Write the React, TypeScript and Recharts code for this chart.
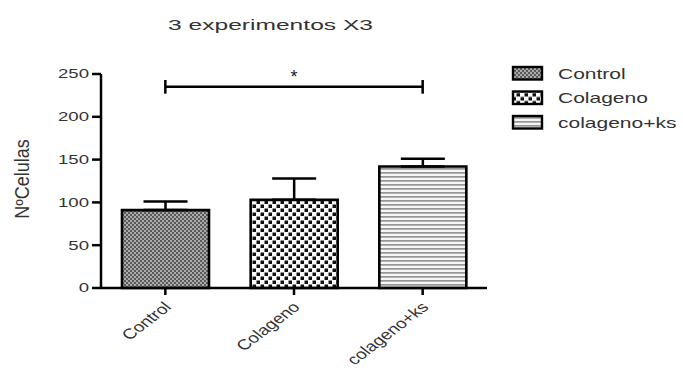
import { BarChart, Bar, XAxis, YAxis, ErrorBar, ReferenceLine, Cell } from 'recharts';

const categories = ['Control', 'Colageno', 'colageno+ks'];
const means = [91, 103, 142];
const sem = [10, 25, 9];
const yTicks = [0, 50, 100, 150, 200, 250];
const sigY = 235;
const title = '3 experimentos X3';
const yLabel = 'NºCelulas';

const fills = ['url(#pat-control)', 'url(#pat-colageno)', 'url(#pat-ks)'];

const data = categories.map((name, i) => ({
  name,
  value: means[i],
  err: [0, sem[i]],
}));

const FONT = 'Liberation Sans, Arial, sans-serif';
const TEXT = '#333';

// the source image is stretched sideways, so text is widened with scaleX
const XTick = ({ x, y, payload }: any) => (
  <g transform={`translate(${x + 7},${y + 11}) scale(1.3,1) rotate(-45)`}>
    <text textAnchor="end" fontSize={14.5} fill={TEXT} fontFamily={FONT}>
      {payload.value}
    </text>
  </g>
);

const YTick = ({ x, y, payload }: any) => (
  <g transform={`translate(${x - 1},${y}) scale(1.55,1)`}>
    <text textAnchor="end" dy="0.36em" fontSize={12} fill={TEXT} fontFamily={FONT}>
      {payload.value}
    </text>
  </g>
);

const Overlay = () => (
  <svg
    width={683}
    height={368}
    style={{ position: 'absolute', left: 0, top: 0, pointerEvents: 'none' }}
  >
    <defs>
      <pattern id="pat-control" width={4} height={4} patternUnits="userSpaceOnUse">
        <rect width={4} height={4} fill="#aaa" />
        <rect width={2} height={2} fill="#5a5a5a" />
        <rect x={2} y={2} width={2} height={2} fill="#5a5a5a" />
      </pattern>
      <pattern id="pat-colageno" width={8} height={8} patternUnits="userSpaceOnUse">
        <rect width={8} height={8} fill="#fff" />
        <rect x={0.5} y={0.5} width={3.5} height={3.5} fill="#111" />
        <rect x={4.5} y={4.5} width={3.5} height={3.5} fill="#111" />
      </pattern>
      <pattern id="pat-ks" width={4} height={4} patternUnits="userSpaceOnUse">
        <rect width={4} height={4} fill="#f6f6f6" />
        <rect width={4} height={1.7} fill="#959595" />
      </pattern>
    </defs>
    <g transform="translate(270.5,30) scale(1.64,1)">
      <text textAnchor="middle" fontSize={15} fill={TEXT} fontFamily={FONT}>
        {title}
      </text>
    </g>
    <g transform="translate(22,179) scale(1.1,1) rotate(-90)">
      <text textAnchor="middle" dy="0.36em" fontSize={18} fill={TEXT} fontFamily={FONT}>
        {yLabel}
      </text>
    </g>
    {categories.map((c, i) => (
      <g key={c} transform={`translate(0,${i * 24.5})`}>
        <rect x={513} y={67} width={29} height={12.5} fill={fills[i]} stroke="#000" strokeWidth={2.4} />
        <g transform="translate(558,78.5) scale(1.5,1)">
          <text fontSize={14} fill={TEXT} fontFamily={FONT}>
            {c}
          </text>
        </g>
      </g>
    ))}
  </svg>
);

export default function App() {
  return (
    <div style={{ position: 'absolute', left: 0, top: 0, width: 683, height: 368, background: '#fff', overflow: 'hidden' }}>
      <BarChart width={683} height={368} data={data} margin={{ top: 74, right: 196, bottom: 0, left: 21 }} barSize={87}>
        <XAxis
          dataKey="name"
          height={80}
          axisLine={{ stroke: '#000', strokeWidth: 2.5 }}
          tickLine={{ stroke: '#000', strokeWidth: 2.5 }}
          tickSize={7}
          interval={0}
          tick={<XTick />}
        />
        <YAxis
          width={80}
          domain={[0, 250]}
          ticks={yTicks}
          axisLine={{ stroke: '#000', strokeWidth: 2.5 }}
          tickLine={{ stroke: '#000', strokeWidth: 2.5 }}
          tickSize={9}
          tick={<YTick />}
        />
        <Bar dataKey="value" stroke="#000" strokeWidth={2.6} isAnimationActive={false}>
          {data.map((d, i) => (
            <Cell key={d.name} fill={fills[i]} />
          ))}
          <ErrorBar dataKey="err" width={22} stroke="#000" strokeWidth={2.5} direction="y" />
        </Bar>
        <ReferenceLine
          segment={[
            { x: categories[0], y: sigY },
            { x: categories[2], y: sigY },
          ]}
          stroke="#000"
          strokeWidth={2.5}
          label={{ value: '*', position: 'top', offset: 4, fontSize: 18, fill: '#222', fontFamily: FONT }}
        />
        <ReferenceLine
          segment={[
            { x: categories[0], y: sigY - 8 },
            { x: categories[0], y: sigY + 8 },
          ]}
          stroke="#000"
          strokeWidth={2.5}
        />
        <ReferenceLine
          segment={[
            { x: categories[2], y: sigY - 8 },
            { x: categories[2], y: sigY + 8 },
          ]}
          stroke="#000"
          strokeWidth={2.5}
        />
      </BarChart>
      <Overlay />
    </div>
  );
}
